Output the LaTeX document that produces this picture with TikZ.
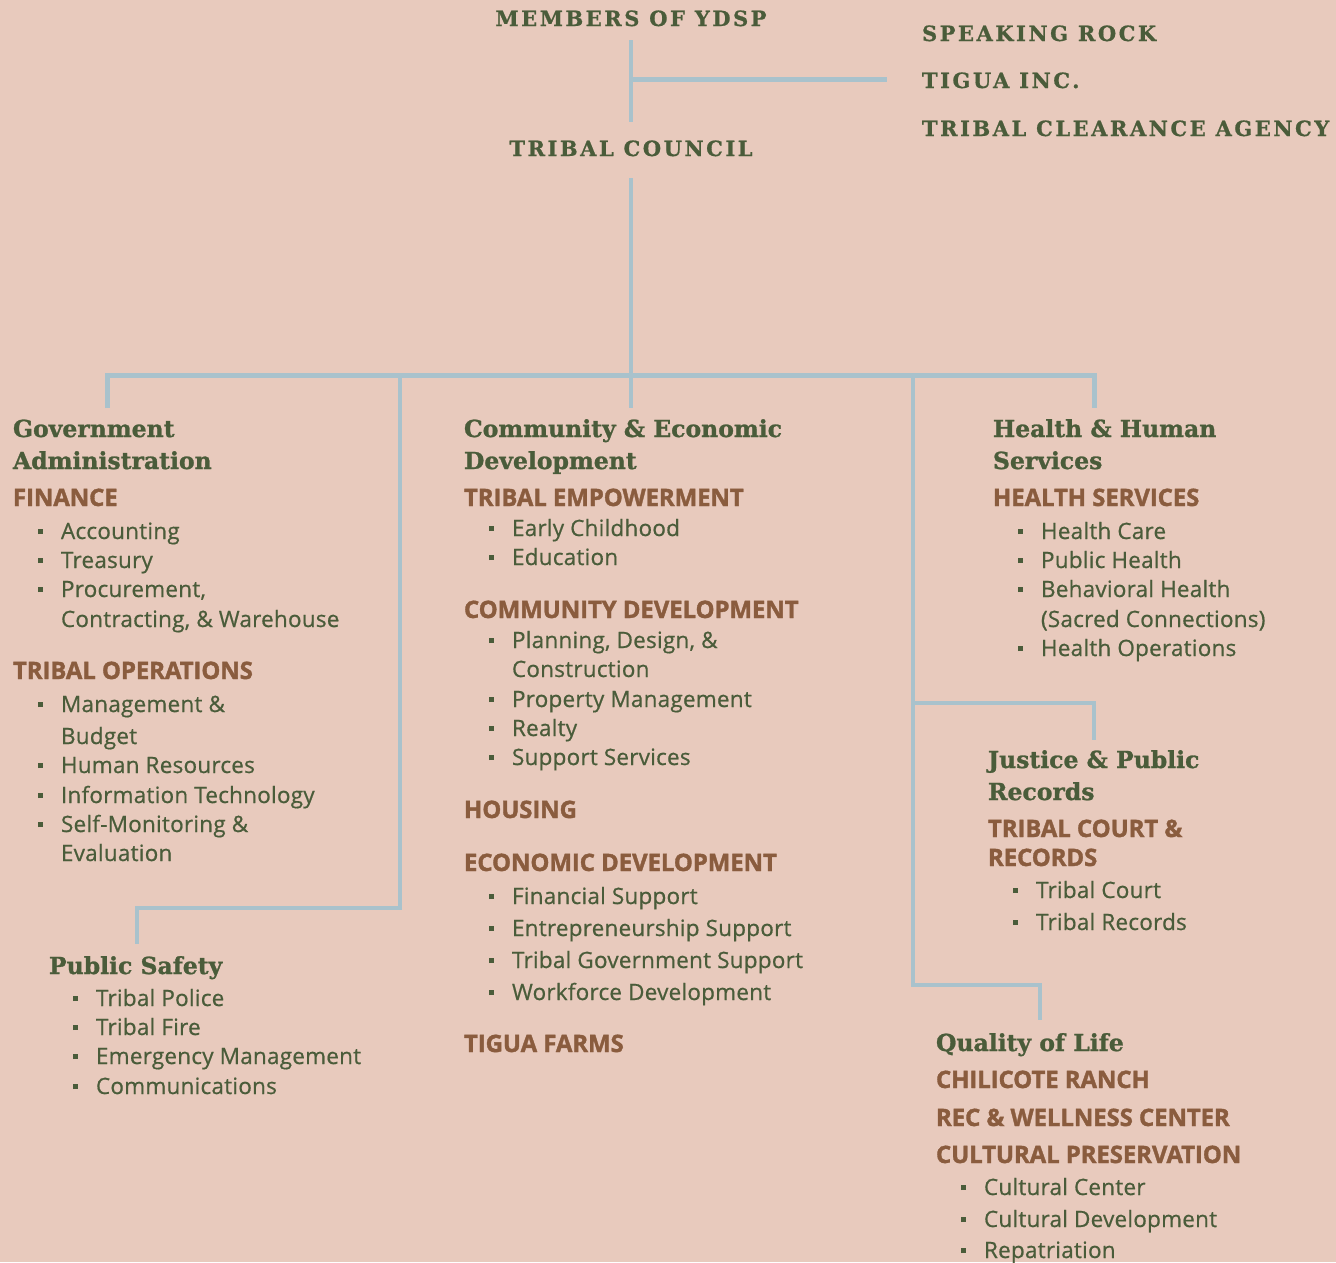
\documentclass[tikz,border=0pt]{standalone}
\usepackage{fontspec}
\setmainfont{Open Sans}[FakeBold=0.7,LetterSpace=1]
\newfontfamily\slab{DejaVu Serif}[FakeBold=1.1]
\newfontfamily\slabsp{DejaVu Serif}[LetterSpace=12,FakeBold=0.8]
\newfontfamily\capsf{Open Sans}[LetterSpace=-0.5,FakeBold=1.4]
\definecolor{bgpink}{HTML}{E8CABD}
\definecolor{tgreen}{HTML}{4A5C3A}
\definecolor{tbrown}{HTML}{8A5C3E}
\definecolor{lnblue}{HTML}{A9C2CC}
\newcommand{\bul}{\makebox[23pt][l]{\raisebox{5pt}{\rule{5pt}{5pt}}}}
\begin{document}
\begin{tikzpicture}[x=1pt,y=-1pt,
  txt/.style={anchor=base west,inner sep=0pt,outer sep=0pt},
  toplbl/.style={txt,text=tgreen,font=\slabsp\bfseries\fontsize{21}{24}\selectfont},
  hd/.style={txt,text=tgreen,font=\slab\bfseries\fontsize{23.5}{26}\selectfont},
  sec/.style={txt,text=tbrown,font=\capsf\bfseries\fontsize{24}{27}\selectfont},
  itm/.style={txt,text=tgreen,font=\fontsize{22.5}{26}\selectfont},
  ln/.style={draw=lnblue,line width=4pt},
  bar/.style={draw=lnblue,line width=5pt}]
\fill[bgpink] (0,0) rectangle (1336,1262);
\useasboundingbox (0,0) rectangle (1336,1262);

% top
\node[toplbl,anchor=base] (members) at (631,26) {MEMBERS OF YDSP};
\node[toplbl] (speak) at (922,41) {SPEAKING ROCK};
\node[toplbl] (tigua) at (922,88) {TIGUA INC.};
\node[toplbl] (clear) at (922,136) {TRIBAL CLEARANCE AGENCY};
\node[toplbl,anchor=base] (council) at (631,156) {TRIBAL COUNCIL};

% left column
\node[hd] (ga1) at (13,437) {Government};
\node[hd] (ga2) at (13,469) {Administration};
\node[sec] (fin) at (13,506) {FINANCE};
\node[itm] (l1) at (38,539) {\bul Accounting};
\node[itm] (l2) at (38,568) {\bul Treasury};
\node[itm] (l3) at (38,597) {\bul Procurement,};
\node[itm] (l3b) at (61,627) {Contracting, \& Warehouse};
\node[sec] (tops) at (13,679) {TRIBAL OPERATIONS};
\node[itm] (l4) at (38,712) {\bul Management \&};
\node[itm] (l4b) at (61,744) {Budget};
\node[itm] (l5) at (38,773) {\bul Human Resources};
\node[itm] (l6) at (38,803) {\bul Information Technology};
\node[itm] (l7) at (38,832) {\bul Self-Monitoring \&};
\node[itm] (l7b) at (61,861) {Evaluation};

\node[hd] (ps) at (49,974) {Public Safety};
\node[itm] (p1) at (73,1006) {\bul Tribal Police};
\node[itm] (p2) at (73,1035) {\bul Tribal Fire};
\node[itm] (p3) at (73,1064) {\bul Emergency Management};
\node[itm] (p4) at (73,1094) {\bul Communications};

% middle column
\node[hd] (ce1) at (464,437) {Community \& Economic};
\node[hd] (ce2) at (464,469) {Development};
\node[sec] (te) at (464,506) {TRIBAL EMPOWERMENT};
\node[itm] (m1) at (489,536) {\bul Early Childhood};
\node[itm] (m2) at (489,565) {\bul Education};
\node[sec] (cd) at (464,618) {COMMUNITY DEVELOPMENT};
\node[itm] (m3) at (489,648) {\bul Planning, Design, \&};
\node[itm] (m3b) at (512,677) {Construction};
\node[itm] (m4) at (489,707) {\bul Property Management};
\node[itm] (m5) at (489,736) {\bul Realty};
\node[itm] (m6) at (489,765) {\bul Support Services};
\node[sec] (hous) at (464,818) {HOUSING};
\node[sec] (ed) at (464,871) {ECONOMIC DEVELOPMENT};
\node[itm] (m7) at (489,904) {\bul Financial Support};
\node[itm] (m8) at (489,936) {\bul Entrepreneurship Support};
\node[itm] (m9) at (489,968) {\bul Tribal Government Support};
\node[itm] (m10) at (489,1000) {\bul Workforce Development};
\node[sec] (tf) at (464,1052) {TIGUA FARMS};

% right column
\node[hd] (hh1) at (993,437) {Health \& Human};
\node[hd] (hh2) at (993,469) {Services};
\node[sec] (hs) at (993,506) {HEALTH SERVICES};
\node[itm] (r1) at (1018,539) {\bul Health Care};
\node[itm] (r2) at (1018,568) {\bul Public Health};
\node[itm] (r3) at (1018,597) {\bul Behavioral Health};
\node[itm] (r3b) at (1041,627) {(Sacred Connections)};
\node[itm] (r4) at (1018,656) {\bul Health Operations};

\node[hd] (jp1) at (988,768) {Justice \& Public};
\node[hd] (jp2) at (988,800) {Records};
\node[sec] (tc1) at (988,837) {TRIBAL COURT \&};
\node[sec] (tc2) at (988,866) {RECORDS};
\node[itm] (j1) at (1013,898) {\bul Tribal Court};
\node[itm] (j2) at (1013,930) {\bul Tribal Records};

\node[hd] (ql) at (936,1051) {Quality of Life};
\node[sec] (cr) at (936,1088) {CHILICOTE RANCH};
\node[sec] (rw) at (936,1126) {REC \& WELLNESS CENTER};
\node[sec] (cp) at (936,1163) {CULTURAL PRESERVATION};
\node[itm] (q1) at (961,1195) {\bul Cultural Center};
\node[itm] (q2) at (961,1227) {\bul Cultural Development};
\node[itm] (q3) at (961,1258) {\bul Repatriation};

% connectors
\coordinate (a1) at (631,40);
\coordinate (a2) at (631,122);
\coordinate (a3) at (631,79);
\coordinate (a4) at (887,79);
\coordinate (b1) at (631,178);
\coordinate (b2) at (631,408);
\coordinate (busL) at (107,375);
\coordinate (busR) at (1094,375);
\coordinate (gaT) at (107,408);
\coordinate (hhT) at (1094,408);
\coordinate (lv) at (400,375);
\coordinate (lvb) at (400,908);
\coordinate (psT) at (137,944);
\coordinate (rv) at (913,375);
\coordinate (rvb) at (913,985);
\coordinate (qlT) at (1040,1020);
\coordinate (rvm) at (913,703);
\coordinate (jpT) at (1094,740);

\draw[ln] (a1) -- (a2);
\draw[bar] (a3) -- (a4);
\draw[ln] (b1) -- (b2);
\draw[bar] (gaT) -- (busL) -- (busR) -- (hhT);
\draw[ln] (lv) -- (lvb) -| (psT);
\draw[ln] (rv) -- (rvb) -| (qlT);
\draw[ln] (rvm) -| (jpT);
\end{tikzpicture}
\end{document}
